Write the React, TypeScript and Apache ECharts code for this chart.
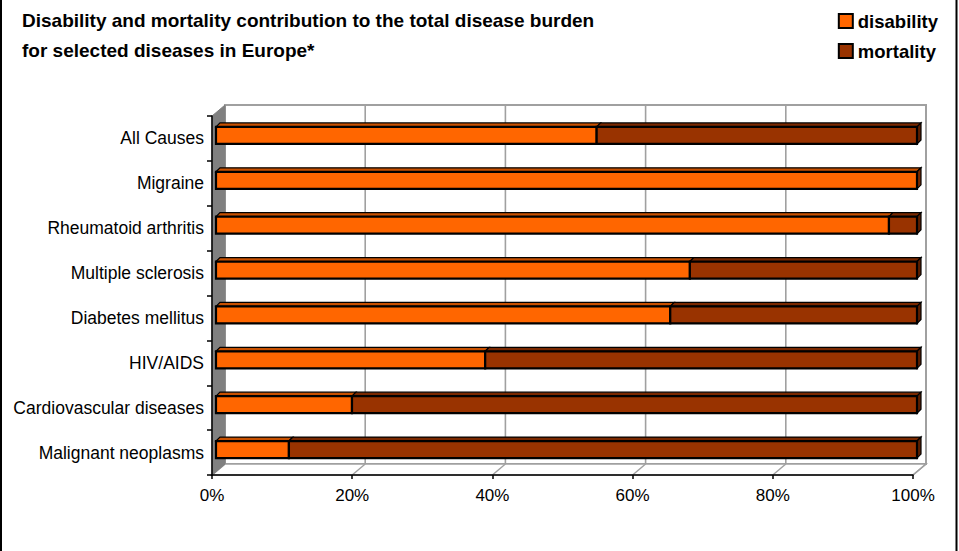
import React, { useEffect, useRef } from "react";
import * as echarts from "echarts";

const categories = [
  "All Causes",
  "Migraine",
  "Rheumatoid arthritis",
  "Multiple sclerosis",
  "Diabetes mellitus",
  "HIV/AIDS",
  "Cardiovascular diseases",
  "Malignant neoplasms",
];
const disability = [54.3, 100, 96.0, 67.6, 64.8, 38.4, 19.4, 10.4];
const mortality = [45.7, 0, 4.0, 32.4, 35.2, 61.6, 80.6, 89.6];
const xTicks = [0, 20, 40, 60, 80, 100];
const titleLines = [
  "Disability and mortality contribution to the total disease burden",
  "for selected diseases in Europe*",
];

const FONT = "'Liberation Sans', Arial, sans-serif";
const WALL_DX = 13;
const WALL_DY = 11;
const BAR_OFF_X = 4;
const BAR_OFF_Y = -3;
const BAR_DEP_X = 4;
const BAR_DEP_Y = 4;

function makeBarRender(front: string, top: string, side: string) {
  return (params: any, api: any) => {
    const s = api.value(0);
    const e = api.value(1);
    const cat = api.value(2);
    if (e - s <= 0) return { type: "group", children: [] };
    const p0 = api.coord([s, cat]);
    const p1 = api.coord([e, cat]);
    const band = api.size([0, 1])[1];
    const h = band * 0.38;
    const x0 = p0[0] + BAR_OFF_X;
    const x1 = p1[0] + BAR_OFF_X;
    const yT = p0[1] + BAR_OFF_Y - h / 2;
    const yB = yT + h;
    const children: any[] = [
      {
        type: "polygon",
        shape: {
          points: [
            [x0, yT],
            [x0 + BAR_DEP_X, yT - BAR_DEP_Y],
            [x1 + BAR_DEP_X, yT - BAR_DEP_Y],
            [x1, yT],
          ],
        },
        style: { fill: top, stroke: "#000", lineWidth: 1.2 },
      },
    ];
    if (e >= 99.999) {
      children.push({
        type: "polygon",
        shape: {
          points: [
            [x1, yT],
            [x1 + BAR_DEP_X, yT - BAR_DEP_Y],
            [x1 + BAR_DEP_X, yB - BAR_DEP_Y],
            [x1, yB],
          ],
        },
        style: { fill: side, stroke: "#000", lineWidth: 1.2 },
      });
    }
    children.push({
      type: "rect",
      shape: { x: x0, y: yT, width: x1 - x0, height: h },
      style: { fill: front, stroke: "#000", lineWidth: 2.2 },
    });
    return { type: "group", children };
  };
}

function frameRender(params: any, api: any) {
  const cs = params.coordSys;
  const L = cs.x;
  const T = cs.y;
  const R = cs.x + cs.width;
  const B = cs.y + cs.height;
  const gray = "#a0a0a0";
  const children: any[] = [];
  children.push({
    type: "rect",
    shape: { x: L + WALL_DX, y: T - WALL_DY, width: R - L, height: B - T },
    style: { fill: "#fff", stroke: gray, lineWidth: 2 },
  });
  children.push({
    type: "polygon",
    shape: {
      points: [
        [L, B],
        [R, B],
        [R + WALL_DX, B - WALL_DY],
        [L + WALL_DX, B - WALL_DY],
      ],
    },
    style: { fill: "#fff", stroke: gray, lineWidth: 1.5 },
  });
  xTicks.forEach((t) => {
    const x = api.coord([t, 0])[0];
    children.push({
      type: "line",
      shape: { x1: x + WALL_DX, y1: T - WALL_DY, x2: x + WALL_DX, y2: B - WALL_DY },
      style: { stroke: gray, lineWidth: 1.6 },
    });
    children.push({
      type: "line",
      shape: { x1: x, y1: B, x2: x + WALL_DX, y2: B - WALL_DY },
      style: { stroke: gray, lineWidth: 1.4 },
    });
  });
  children.push({
    type: "polygon",
    shape: {
      points: [
        [L, T],
        [L + WALL_DX, T - WALL_DY],
        [L + WALL_DX, B - WALL_DY],
        [L, B],
      ],
    },
    style: { fill: "#808080", stroke: "#808080", lineWidth: 1 },
  });
  return { type: "group", children };
}

export default function App() {
  const ref = useRef<HTMLDivElement>(null);
  useEffect(() => {
    if (!ref.current) return;
    const chart = echarts.init(ref.current, null, { renderer: "svg" });
    const disData = categories.map((_, i) => [0, disability[i], i]);
    const morData = categories.map((_, i) => [
      disability[i],
      disability[i] + mortality[i],
      i,
    ]);
    chart.setOption({
      animation: false,
      backgroundColor: "#fff",
      title: {
        text: titleLines.join("\n"),
        left: 22,
        top: 5,
        padding: 0,
        textStyle: {
          fontFamily: FONT,
          fontSize: 19,
          fontWeight: "bold",
          color: "#000",
          lineHeight: 30,
        },
      },
      legend: {
        orient: "vertical",
        right: 21,
        top: 11,
        padding: 0,
        align: "left",
        itemWidth: 14,
        itemHeight: 14,
        itemGap: 10,
        textStyle: {
          fontFamily: FONT,
          fontSize: 18.5,
          fontWeight: "bold",
          color: "#000",
          lineHeight: 20,
        },
        data: [
          {
            name: "disability",
            icon: "rect",
            itemStyle: { color: "#FF6600", borderColor: "#000", borderWidth: 2 },
          },
          {
            name: "mortality",
            icon: "rect",
            itemStyle: { color: "#993300", borderColor: "#000", borderWidth: 2 },
          },
        ],
      },
      grid: { left: 212, right: 46, top: 116, bottom: 76, containLabel: false },
      xAxis: {
        type: "value",
        min: 0,
        max: 100,
        interval: 20,
        z: 5,
        axisLine: { show: true, lineStyle: { color: "#000", width: 1.5 } },
        axisTick: { show: true, length: 4, lineStyle: { color: "#000", width: 1.5 } },
        splitLine: { show: false },
        axisLabel: {
          formatter: "{value}%",
          fontFamily: FONT,
          fontSize: 17,
          color: "#000",
          margin: 12,
        },
      },
      yAxis: {
        type: "category",
        data: categories,
        inverse: true,
        z: 5,
        axisLine: { show: true, lineStyle: { color: "#000", width: 1.5 } },
        axisTick: { show: true, length: 5, lineStyle: { color: "#000", width: 1.5 } },
        axisLabel: {
          fontFamily: FONT,
          fontSize: 17.5,
          color: "#000",
          margin: 8,
        },
      },
      graphic: [
        {
          type: "line",
          shape: { x1: 1, y1: 0, x2: 1, y2: 551 },
          style: { stroke: "#000", lineWidth: 2 },
        },
        {
          type: "line",
          shape: { x1: 956.5, y1: 0, x2: 956.5, y2: 551 },
          style: { stroke: "#000", lineWidth: 2 },
        },
      ],
      series: [
        {
          type: "custom",
          name: "frame",
          z: 1,
          silent: true,
          renderItem: frameRender,
          data: [[0, 0, 0]],
          encode: { x: 0, y: 2 },
        },
        {
          type: "custom",
          name: "disability",
          z: 3,
          itemStyle: { color: "#FF6600" },
          renderItem: makeBarRender("#FF6600", "#C85000", "#7A2900"),
          data: disData,
          encode: { x: [0, 1], y: 2 },
        },
        {
          type: "custom",
          name: "mortality",
          z: 4,
          itemStyle: { color: "#993300" },
          renderItem: makeBarRender("#993300", "#7A2800", "#5C1E00"),
          data: morData,
          encode: { x: [0, 1], y: 2 },
        },
      ],
    });
    return () => chart.dispose();
  }, []);
  return (
    <div
      ref={ref}
      style={{ position: "fixed", left: 0, top: 0, width: 959, height: 551 }}
    />
  );
}
